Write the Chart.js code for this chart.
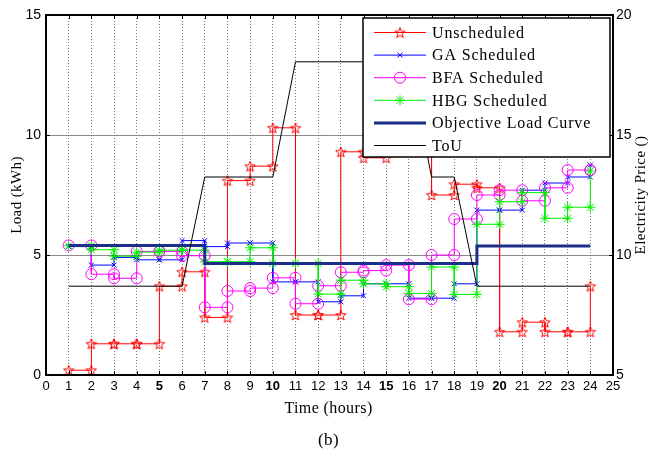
<!DOCTYPE html>
<html lang="en">
<head>
  <meta charset="UTF-8" />
  <title>Load scheduling (b)</title>
  <script src="https://cdn.jsdelivr.net/npm/chart.js"></script>
  <style>
    html, body { margin: 0; padding: 0; background: #fff; }
  </style>
</head>
<body>
  <canvas id="loadChart" width="655" height="456"></canvas>

  <script>
    // hours on the x axis (each stairs value holds from h to h+1)
    const hours = [1, 2, 3, 4, 5, 6, 7, 8, 9, 10, 11, 12, 13, 14, 15, 16, 17, 18, 19, 20, 21, 22, 23, 24];
    const xTicks = [0, 1, 2, 3, 4, 5, 6, 7, 8, 9, 10, 11, 12, 13, 14, 15, 16, 17, 18, 19, 20, 21, 22, 23, 24, 25];
    const loadTicks = [0, 5, 10, 15];
    const priceTicks = [5, 10, 15, 20];

    // load (kWh)
    const unscheduled = [0.2, 1.3, 1.3, 1.3, 3.7, 4.3, 2.4, 8.1, 8.7, 10.3, 2.5, 2.5, 9.3, 9.05, 10.6, 10.0, 7.5, 7.95, 7.8, 1.8, 2.2, 1.8, 1.8, 3.7];
    const gaScheduled = [5.35, 4.58, 4.9, 4.8, 4.8, 5.6, 5.35, 5.5, 5.5, 3.88, 3.88, 3.05, 3.3, 3.8, 3.8, 3.2, 3.2, 3.8, 6.87, 6.87, 7.7, 8.0, 8.25, 8.75];
    const bfaScheduled = [5.4, 4.2, 4.03, 5.15, 5.15, 4.97, 2.82, 3.5, 3.62, 4.05, 2.97, 3.72, 4.28, 4.35, 4.58, 3.16, 5.0, 6.5, 7.5, 7.7, 7.26, 7.8, 8.54, 8.54];
    const hbgScheduled = [5.38, 5.22, 4.95, 5.12, 5.2, 5.2, 4.72, 4.72, 5.3, 4.65, 4.65, 3.37, 3.95, 3.8, 3.68, 3.4, 4.5, 3.36, 6.28, 7.22, 7.6, 6.53, 6.99, 8.5];
    const objective = [5.4, 5.4, 5.4, 5.4, 5.4, 5.4, 4.65, 4.65, 4.65, 4.65, 4.65, 4.65, 4.65, 4.65, 4.65, 4.65, 4.65, 4.65, 5.38, 5.38, 5.38, 5.38, 5.38, 5.38];
    // electricity price (right axis)
    const tou = [8.7, 8.7, 8.7, 8.7, 8.7, 8.7, 13.25, 13.25, 13.25, 13.25, 18.05, 18.05, 18.05, 18.05, 18.05, 18.05, 13.25, 13.25, 8.7, 8.7, 8.7, 8.7, 8.7, 8.7];

    const seriesNames = ['Unscheduled', 'GA Scheduled', 'BFA Scheduled', 'HBG Scheduled', 'Objective Load Curve', 'ToU'];

    // matlab-like stairs: every corner is a vertex (markers on all of them)
    function stairs(ys) {
      const pts = [];
      ys.forEach((y, i) => {
        if (i > 0) pts.push({ x: hours[i], y: ys[i - 1] });
        pts.push({ x: hours[i], y: y });
      });
      return pts;
    }

    // hollow five point star marker
    function pentagram(color, r) {
      const c = document.createElement('canvas');
      const s = Math.ceil(r * 2 + 3);
      c.width = c.height = s;
      const g = c.getContext('2d');
      g.strokeStyle = color;
      g.lineWidth = 1;
      g.beginPath();
      for (let k = 0; k < 10; k++) {
        const rr = k % 2 === 0 ? r : r * 0.42;
        const a = -Math.PI / 2 + k * Math.PI / 5;
        const px = s / 2 + rr * Math.cos(a), py = s / 2 + 0.6 + rr * Math.sin(a);
        if (k === 0) g.moveTo(px, py); else g.lineTo(px, py);
      }
      g.closePath();
      g.stroke();
      return c;
    }

    const starImg = pentagram('#ff0000', 5.5);
    const bold = v => v % 5 === 0 && v > 0 && v < 25;

    const datasets = [
      {
        label: seriesNames[0], data: stairs(unscheduled), borderColor: '#ff0000', borderWidth: 1,
        pointStyle: starImg, pointRadius: 5, order: 6
      },
      {
        label: seriesNames[1], data: stairs(gaScheduled), borderColor: '#0000ff', borderWidth: 1,
        pointStyle: 'crossRot', pointRadius: 3.5, pointBorderColor: '#0000ff', pointBorderWidth: 1, order: 5
      },
      {
        label: seriesNames[2], data: stairs(bfaScheduled), borderColor: '#ff00ff', borderWidth: 1,
        pointStyle: 'circle', pointRadius: 5.5, pointBackgroundColor: 'transparent',
        pointBorderColor: '#ff00ff', pointBorderWidth: 1, order: 4
      },
      {
        label: seriesNames[3], data: stairs(hbgScheduled), borderColor: '#00ee00', borderWidth: 1,
        pointStyle: 'star', pointRadius: 5, pointBorderColor: '#00ee00', pointBorderWidth: 1, order: 3
      },
      {
        label: seriesNames[4], data: stairs(objective), borderColor: '#1b2e8c', borderWidth: 3,
        pointRadius: 0, order: 2
      },
      {
        label: seriesNames[5], data: hours.map((h, i) => ({ x: h, y: tou[i] })), borderColor: '#000000',
        borderWidth: 1, pointRadius: 0, yAxisID: 'y2', order: 1
      }
    ];
    datasets.forEach(d => { d.backgroundColor = 'transparent'; d.tension = 0; d.fill = false; });

    const serif = '"Liberation Serif", "Times New Roman", serif';
    const sans = '"Liberation Sans", Arial, sans-serif';

    const framePlugin = {
      id: 'frame',
      afterDatasetsDraw(chart) {
        const ctx = chart.ctx;
        const { left, right, top, bottom } = chart.chartArea;
        const xs = chart.scales.x, ys = chart.scales.y, y2 = chart.scales.y2;
        ctx.save();

        // inward ticks
        ctx.strokeStyle = '#000';
        ctx.lineWidth = 1;
        ctx.beginPath();
        xTicks.forEach(v => {
          if (v === 0 || v === 25) return;
          const px = Math.round(xs.getPixelForValue(v)) + 0.5;
          ctx.moveTo(px, bottom); ctx.lineTo(px, bottom - 4);
          ctx.moveTo(px, top); ctx.lineTo(px, top + 4);
        });
        loadTicks.forEach(v => {
          const py = Math.round(ys.getPixelForValue(v)) + 0.5;
          ctx.moveTo(left, py); ctx.lineTo(left + 4, py);
        });
        priceTicks.forEach(v => {
          const py = Math.round(y2.getPixelForValue(v)) + 0.5;
          ctx.moveTo(right, py); ctx.lineTo(right - 4, py);
        });
        ctx.stroke();

        // box
        ctx.lineWidth = 2;
        ctx.strokeRect(left, top, right - left, bottom - top);

        // legend inside the plot
        const bx = right - 250, by = top + 3, bw = 247, bh = 139;
        ctx.fillStyle = '#fff';
        ctx.fillRect(bx, by, bw, bh);
        ctx.lineWidth = 1.5;
        ctx.strokeStyle = '#000';
        ctx.strokeRect(bx, by, bw, bh);

        ctx.font = '16px ' + serif;
        ctx.textBaseline = 'middle';
        ctx.textAlign = 'left';
        datasets.forEach((d, i) => {
          const ly = by + 14.5 + i * 22.6;
          ctx.strokeStyle = d.borderColor;
          ctx.lineWidth = d.borderWidth;
          ctx.beginPath();
          ctx.moveTo(bx + 11, ly); ctx.lineTo(bx + 63, ly);
          ctx.stroke();
          if (d.pointRadius > 0) {
            ctx.strokeStyle = d.pointBorderColor || d.borderColor;
            ctx.fillStyle = 'rgba(0,0,0,0)';
            ctx.lineWidth = 1;
            Chart.helpers.drawPoint(ctx, {
              pointStyle: d.pointStyle, radius: d.pointRadius, rotation: 0, borderWidth: 1
            }, bx + 37, ly);
          }
          ctx.fillStyle = '#000';
          if ('letterSpacing' in ctx) ctx.letterSpacing = '0.85px';
          ctx.fillText(d.label, bx + 69, ly + 1);
          if ('letterSpacing' in ctx) ctx.letterSpacing = '0px';
        });
        ctx.restore();
      },
      afterDraw(chart) {
        const ctx = chart.ctx;
        const { left, right, top, bottom } = chart.chartArea;
        const midY = (top + bottom) / 2;
        ctx.save();
        ctx.fillStyle = '#000';
        ctx.textAlign = 'center';
        ctx.textBaseline = 'middle';
        if ('letterSpacing' in ctx) ctx.letterSpacing = '0.4px';

        ctx.font = '15px ' + serif;
        ctx.save();
        ctx.translate(17, midY);
        ctx.rotate(-Math.PI / 2);
        ctx.fillText('Load (kWh)', 0, 0);
        ctx.restore();

        ctx.save();
        ctx.translate(641, midY);
        ctx.rotate(-Math.PI / 2);
        ctx.fillText('Electricity Price ()', 0, 0);
        ctx.restore();

        ctx.font = '16px ' + serif;
        ctx.fillText('Time (hours)', (left + right) / 2 - 1, 409);
        ctx.font = '17px ' + serif;
        ctx.fillText('(b)', (left + right) / 2 - 1, 441);
        ctx.restore();
      }
    };

    new Chart(document.getElementById('loadChart'), {
      type: 'line',
      data: { datasets: datasets },
      options: {
        responsive: false,
        animation: false,
        devicePixelRatio: 1,
        layout: { padding: { top: 15, left: 0, right: 0, bottom: 0 } },
        plugins: { legend: { display: false }, tooltip: { enabled: false } },
        scales: {
          x: {
            type: 'linear', position: 'bottom', min: 0, max: 25,
            afterBuildTicks: s => { s.ticks = xTicks.map(v => ({ value: v })); },
            afterFit: s => { s.height = 81; },
            ticks: {
              autoSkip: false, maxRotation: 0, padding: 4, color: '#000',
              font: c => ({ family: sans, size: 13, weight: c.tick && bold(c.tick.value) ? 'bold' : 'normal' })
            },
            grid: {
              drawTicks: false, lineWidth: 1,
              color: c => (c.tick && c.tick.value > 0 && c.tick.value < 25) ? '#7a7a7a' : 'rgba(0,0,0,0)'
            },
            border: { display: false, dash: [1, 2] }
          },
          y: {
            position: 'left', min: 0, max: 15,
            afterBuildTicks: s => { s.ticks = loadTicks.map(v => ({ value: v })); },
            afterFit: s => { s.width = 46; },
            ticks: { padding: 5, color: '#000', font: { family: sans, size: 14 } },
            grid: {
              drawTicks: false, lineWidth: 1,
              color: c => (c.tick && c.tick.value > 0 && c.tick.value < 15) ? '#8a8a8a' : 'rgba(0,0,0,0)'
            },
            border: { display: false }
          },
          y2: {
            position: 'right', min: 5, max: 20,
            afterBuildTicks: s => { s.ticks = priceTicks.map(v => ({ value: v })); },
            afterFit: s => { s.width = 42; },
            ticks: { padding: 3, color: '#000', font: { family: sans, size: 14 } },
            grid: { display: false, drawTicks: false },
            border: { display: false }
          }
        }
      },
      plugins: [framePlugin]
    });
  </script>
</body>
</html>
